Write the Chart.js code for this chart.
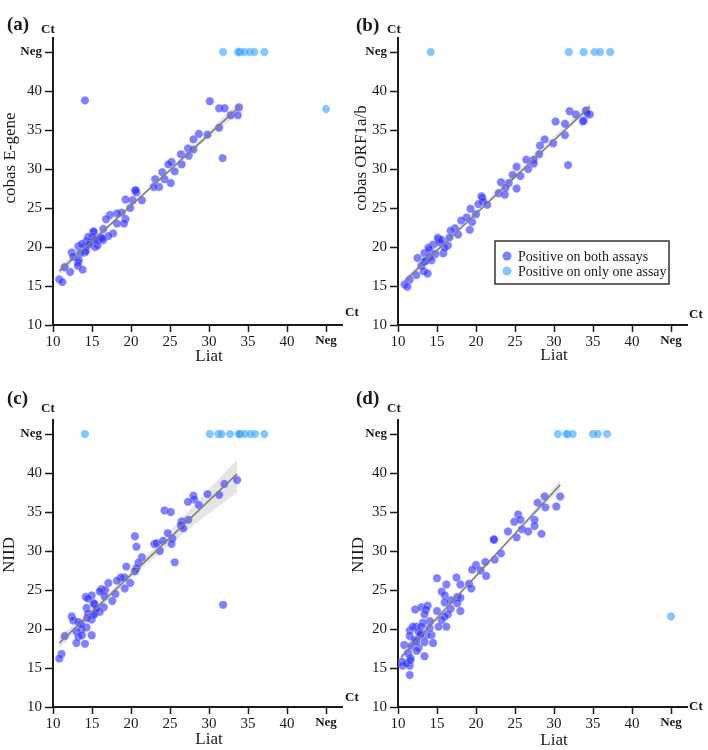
<!DOCTYPE html>
<html lang="en">
<head>
<meta charset="UTF-8">
<title>Liat vs comparator Ct</title>
<script src="https://cdn.jsdelivr.net/npm/chart.js"></script>
<style>
    body { margin: 0; background: #fff; }
    #wrap { position: relative; width: 708px; height: 750px; }
    #wrap canvas { position: absolute; }
</style>
</head>
<body>
<div id="wrap">
    <canvas id="pa" width="362" height="382" style="left:0;top:0"></canvas>
    <canvas id="pb" width="363" height="382" style="left:345px;top:0"></canvas>
    <canvas id="pc" width="362" height="368" style="left:0;top:382px"></canvas>
    <canvas id="pd" width="363" height="368" style="left:345px;top:382px"></canvas>
</div>
<script>
    // axis ticks (45 stands for "Neg")
    const NEG = 45;
    const axisTicks = [10, 15, 20, 25, 30, 35, 40, 45];
    const seriesNames = ["Positive on both assays", "Positive on only one assay"];
    const xTitle = "Liat";

    // (a) Liat vs cobas E-gene
    const bothA = [[14.1,38.8],[30.1,38.7],[31.3,37.8],[32.0,37.8],[32.8,36.9],[33.7,36.9],[33.85,37.9],[31.3,35.3],
        [31.75,31.4],[29.8,34.4],[28.7,34.5],[28.0,33.8],[27.3,32.65],[28.0,32.5],[27.4,31.7],[26.4,31.9],[26.5,30.6],
        [25.2,30.9],[24.8,30.6],[25.6,29.7],[24.0,29.6],[24.3,28.7],[23.1,28.7],[23.6,27.7],[22.9,27.7],[25.1,28.2],
        [20.5,27.2],[20.7,27.0],[20.6,27.3],[21.4,26.0],[20.2,26.0],[19.3,26.1],[19.9,25.0],[18.8,24.4],[18.2,24.3],
        [17.3,24.1],[16.8,23.55],[19.3,23.6],[19.1,23.0],[18.2,23.0],[17.7,21.75],[17.1,21.4],[16.45,22.3],[16.1,21.3],
        [15.2,21.9],[15.2,22.0],[15.05,21.3],[14.5,21.3],[14.3,20.8],[15.4,20.0],[15.7,20.2],[14.1,20.0],[13.25,20.1],
        [14.1,19.3],[14.2,19.5],[13.5,19.2],[12.4,19.3],[12.6,18.75],[13.2,18.0],[13.3,18.3],[13.2,17.6],[13.8,17.1],
        [12.2,16.8],[11.5,17.4],[10.8,15.85],[11.2,15.5],[14.75,20.6],[15.8,20.8],[16.45,20.9],[15.4,20.9],[13.7,20.4],
        [16.3,21.1],[14.6,20.3]];
    const onlyA = [[31.8,45],[33.7,45],[34.0,45],[33.9,45],[34.5,45],[35.2,45],[35.8,45],[37.1,45],[45,37.7]];
    const fitA = [[10.8,16.9],[33.9,38.0]];
    const bandXA = [10.8, 16, 22, 28, 33.9];
    const bandLoA = [16.3, 21.45, 26.95, 32.35, 37.2];
    const bandHiA = [17.5, 21.85, 27.25, 32.85, 38.8];

    // (b) Liat vs cobas ORF1a/b
    const bothB = [[32.0,37.4],[32.8,37.0],[34.1,37.5],[34.6,37.0],[34.3,37.1],[33.7,36.1],[33.8,36.2],[30.2,36.1],
        [31.4,35.8],[31.4,34.35],[31.8,30.5],[29.9,33.3],[28.8,33.8],[28.2,33.0],[28.1,31.9],[27.4,31.2],[26.45,31.2],
        [27.4,30.7],[26.7,30.0],[25.2,30.3],[24.7,29.25],[25.7,29.1],[24.2,28.2],[25.2,27.5],[23.2,28.3],[23.8,27.6],
        [22.9,26.9],[23.7,26.7],[20.7,26.5],[20.8,26.3],[20.9,25.85],[20.3,25.5],[21.45,25.4],[19.3,24.9],[20.0,24.2],
        [18.8,23.8],[18.1,23.4],[19.5,23.2],[19.2,22.2],[17.3,22.4],[16.75,22.1],[17.7,21.6],[16.6,21.2],[15.1,21.2],
        [15.2,21.0],[14.5,20.3],[16.4,20.2],[15.8,19.2],[14.06,19.6],[13.4,19.2],[14.8,19.1],[14.06,18.7],[12.5,18.6],
        [13.4,18.1],[13.5,18.2],[13.0,17.6],[13.3,16.9],[13.8,16.6],[12.35,16.4],[11.5,15.8],[10.85,15.2],[11.2,14.9],
        [15.3,20.6],[16.0,19.9],[14.3,18.3],[15.6,20.9],[13.9,19.9]];
    const onlyB = [[14.2,45],[31.9,45],[33.8,45],[35.2,45],[35.9,45],[37.2,45]];
    const fitB = [[10.9,15.7],[34.6,38.0]];
    const bandXB = [10.9, 17, 23, 29, 34.6];
    const bandLoB = [15.35, 21.5, 27.25, 32.95, 37.55];
    const bandHiB = [16.05, 21.85, 27.55, 33.35, 38.45];

    // (c) Liat vs NIID
    const bothC = [[33.6,39.1],[31.97,38.6],[31.3,37.2],[29.8,37.3],[28.0,37.1],[28.1,36.6],[27.3,36.3],[28.7,35.9],
        [24.3,35.2],[25.1,35.0],[27.35,34.0],[26.5,33.8],[26.4,33.3],[26.7,32.9],[20.5,31.9],[20.7,30.55],[24.7,32.3],
        [22.99,30.9],[23.3,31.0],[24.1,31.3],[25.3,31.6],[25.2,30.9],[23.7,30.0],[25.6,28.55],[21.4,29.2],[20.95,28.5],
        [19.4,28.0],[20.7,27.8],[20.5,27.4],[19.9,25.9],[19.15,26.6],[19.2,25.2],[18.7,26.6],[18.2,26.2],[17.1,25.9],
        [16.2,25.1],[16.7,25.0],[16.0,24.8],[16.6,24.2],[18.0,24.5],[17.6,23.6],[14.2,24.1],[14.96,24.3],[14.5,23.9],
        [15.2,23.3],[15.3,23.2],[16.5,22.8],[14.3,22.7],[16.0,22.2],[15.4,22.0],[14.5,22.0],[12.4,21.6],[12.6,21.1],
        [14.96,21.2],[13.25,20.9],[14.3,20.2],[13.7,19.96],[13.0,19.7],[13.25,19.0],[14.96,19.2],[13.7,19.2],[11.5,19.1],
        [13.0,18.2],[14.1,18.1],[11.1,16.8],[10.8,16.2],[15.6,22.6],[15.2,21.8],[31.8,23.1],[14.4,21.4],[13.6,20.6]];
    const onlyC = [[14.1,45],[30.1,45],[31.2,45],[31.6,45],[32.7,45],[33.8,45],[34.0,45],[33.9,45],[34.6,45],[35.3,45],
        [35.9,45],[37.1,45]];
    const fitC = [[10.8,18.2],[33.6,39.9]];
    const bandXC = [10.8, 16, 22, 28, 33.6];
    const bandLoC = [17.5, 22.7, 28.3, 33.3, 37.5];
    const bandHiC = [18.9, 23.6, 29.4, 35.8, 41.7];

    // (d) Liat vs NIID
    const bothD = [[30.8,37.0],[28.8,37.0],[27.9,36.2],[28.9,35.6],[30.3,35.7],[25.4,34.7],[24.9,33.75],[25.7,34.0],
        [27.5,34.0],[27.5,33.2],[25.9,32.8],[26.7,32.5],[25.2,31.75],[24.1,32.5],[28.4,32.2],[22.3,31.4],[22.3,31.5],
        [23.2,29.7],[22.4,28.9],[21.2,28.6],[20.0,28.2],[19.5,27.6],[20.6,27.5],[21.3,26.8],[15.0,26.5],[17.5,26.6],
        [16.2,25.7],[18.0,25.7],[19.1,25.8],[19.4,25.2],[15.6,24.8],[16.0,24.3],[17.6,24.1],[18.0,24.0],[16.8,23.7],
        [16.0,23.4],[17.6,23.3],[12.2,22.5],[13.0,22.8],[13.8,23.0],[13.6,22.5],[13.4,21.9],[15.0,22.3],[18.0,22.3],
        [16.75,22.6],[16.4,21.9],[16.0,21.6],[15.6,21.15],[14.1,21.0],[15.2,20.3],[16.2,20.3],[13.2,20.8],[12.35,20.3],
        [11.5,19.8],[12.6,19.7],[13.6,19.2],[14.3,19.2],[11.5,19.1],[12.8,19.1],[12.1,18.6],[10.8,17.95],[14.5,18.2],
        [13.4,18.3],[11.7,17.8],[12.65,17.6],[11.3,16.9],[13.4,16.5],[11.6,16.3],[10.5,15.8],[10.6,15.3],[11.5,15.3],
        [11.5,14.1],[12.35,18.4],[11.9,20.3],[13.0,20.3],[14.06,20.1],[11.07,15.6],[12.9,19.4],[11.6,16.0],[12.4,17.2]];
    const onlyD = [[30.5,45],[31.6,45],[31.7,45],[32.4,45],[35.0,45],[35.6,45],[36.8,45],[45,21.6]];
    const fitD = [[10.4,16.4],[30.8,38.5]];
    const bandXD = [10.4, 15, 20, 25.5, 30.8];
    const bandLoD = [15.9, 21.4, 26.75, 32.6, 37.9];
    const bandHiD = [16.8, 21.75, 27.05, 33.0, 39.1];

    const serif = "'Liberation Serif', 'Times New Roman', serif";
    const ink = "#1a1a1a";
    const bothColor = "rgba(50, 50, 255, 0.62)";
    const onlyColor = "rgba(60, 165, 255, 0.62)";

    const toPts = arr => arr.map(p => ({ x: p[0], y: p[1] }));
    const bandPts = (xs, ys) => xs.map((x, i) => ({ x: x, y: ys[i] }));
    const tickFont = { family: serif, size: 15 };
    const negFont = { family: serif, size: 13, weight: "bold" };

    const decor = {
        id: "decor",
        afterDraw(chart, args, o) {
            const ctx = chart.ctx;
            ctx.save();
            ctx.fillStyle = ink;
            ctx.textBaseline = "middle";
            ctx.textAlign = "left";
            ctx.font = "bold 19px " + serif;
            ctx.fillText(o.letter, o.letterPos[0], o.letterPos[1]);
            ctx.font = "bold 13px " + serif;
            ctx.fillText("Ct", o.ctTop[0], o.ctTop[1]);
            ctx.fillText("Ct", o.ctRight[0], o.ctRight[1]);

            ctx.textAlign = "center";
            ctx.font = "17px " + serif;
            ctx.fillText(xTitle, 209, o.xTitleY);
            ctx.translate(o.yTitlePos[0], o.yTitlePos[1]);
            ctx.rotate(-Math.PI / 2);
            ctx.fillText(o.yTitle, 0, 0);
            ctx.restore();

            if (o.legend) {
                ctx.save();
                ctx.strokeStyle = "#333";
                ctx.lineWidth = 1.5;
                ctx.fillStyle = "#fff";
                ctx.fillRect(150, 241, 174, 43);
                ctx.strokeRect(150, 241, 174, 43);
                const cols = [bothColor, onlyColor];
                ctx.font = "14px " + serif;
                ctx.textBaseline = "middle";
                seriesNames.forEach((name, i) => {
                    const y = 256 + i * 15;
                    ctx.fillStyle = cols[i];
                    ctx.beginPath();
                    ctx.arc(162, y, 4.5, 0, Math.PI * 2);
                    ctx.fill();
                    ctx.fillStyle = ink;
                    ctx.fillText(name, 173, y + 1);
                });
                ctx.restore();
            }
        }
    };

    function makePanel(id, both, only, fit, bandX, bandLo, bandHi, opts) {
        const canvas = document.getElementById(id);
        const H = canvas.height;
        new Chart(canvas, {
            type: "scatter",
            data: {
                datasets: [
                    {
                        type: "line", data: bandPts(bandX, bandLo), borderWidth: 0, pointRadius: 0,
                        fill: false, order: 3
                    },
                    {
                        type: "line", data: bandPts(bandX, bandHi), borderWidth: 0, pointRadius: 0,
                        fill: "-1", backgroundColor: "rgba(180, 180, 180, 0.35)", order: 3
                    },
                    {
                        label: seriesNames[0], data: toPts(both), backgroundColor: bothColor,
                        borderColor: "rgba(255,255,255,0.5)", borderWidth: 0.5, pointRadius: 4.2, order: 2
                    },
                    {
                        label: seriesNames[1], data: toPts(only), backgroundColor: onlyColor,
                        borderColor: "rgba(255,255,255,0.5)", borderWidth: 0.5, pointRadius: 4.2, order: 2
                    },
                    {
                        type: "line", data: toPts(fit), borderColor: "#808080", borderWidth: 1.6,
                        pointRadius: 0, fill: false, order: 1
                    }
                ]
            },
            options: {
                responsive: false,
                animation: false,
                layout: { padding: { left: 0, top: 38, right: canvas.width - 342, bottom: 0 } },
                plugins: {
                    legend: { display: false },
                    tooltip: { enabled: false },
                    decor: opts
                },
                scales: {
                    x: {
                        type: "linear", min: 10, max: 47.05,
                        afterBuildTicks: s => { s.ticks = axisTicks.map(v => ({ value: v })); },
                        afterFit: s => { s.height = H - 325; },
                        ticks: {
                            callback: v => v === NEG ? "Neg" : v,
                            font: c => (c.tick && c.tick.value === NEG) ? negFont : tickFont,
                            color: ink, padding: 1, maxRotation: 0, autoSkip: false
                        },
                        grid: { drawOnChartArea: false, drawTicks: true, tickLength: 7, tickWidth: 1.5, tickColor: ink },
                        border: { display: true, color: ink, width: 2 }
                    },
                    y: {
                        type: "linear", min: 10, max: 46.8,
                        afterBuildTicks: s => { s.ticks = axisTicks.map(v => ({ value: v })); },
                        afterFit: s => { s.width = 53; },
                        ticks: {
                            callback: v => v === NEG ? "Neg" : v,
                            font: c => (c.tick && c.tick.value === NEG) ? negFont : tickFont,
                            color: ink, padding: 3, autoSkip: false
                        },
                        grid: { drawOnChartArea: false, drawTicks: true, tickLength: 8, tickWidth: 1.5, tickColor: ink },
                        border: { display: true, color: ink, width: 2 }
                    }
                }
            },
            plugins: [decor]
        });
    }

    makePanel("pa", bothA, onlyA, fitA, bandXA, bandLoA, bandHiA, {
        letter: "(a)", letterPos: [7, 25], ctTop: [41, 30], ctRight: [345, 313],
        yTitle: "cobas E-gene", yTitlePos: [11, 158], xTitleY: 357, legend: false
    });
    makePanel("pb", bothB, onlyB, fitB, bandXB, bandLoB, bandHiB, {
        letter: "(b)", letterPos: [11, 26], ctTop: [42, 30], ctRight: [344, 315],
        yTitle: "cobas ORF1a/b", yTitlePos: [17, 158], xTitleY: 356, legend: true
    });
    makePanel("pc", bothC, onlyC, fitC, bandXC, bandLoC, bandHiC, {
        letter: "(c)", letterPos: [7, 17], ctTop: [41, 27], ctRight: [345, 316],
        yTitle: "NIID", yTitlePos: [10, 173], xTitleY: 358, legend: false
    });
    makePanel("pd", bothD, onlyD, fitD, bandXD, bandLoD, bandHiD, {
        letter: "(d)", letterPos: [11, 17], ctTop: [42, 27], ctRight: [344, 325],
        yTitle: "NIID", yTitlePos: [14, 173], xTitleY: 359, legend: false
    });
</script>
</body>
</html>
